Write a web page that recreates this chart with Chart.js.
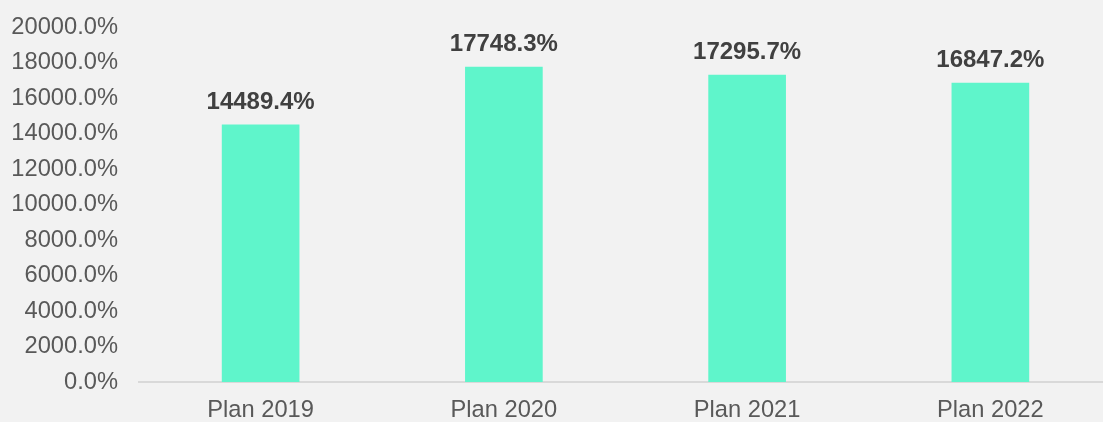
<!DOCTYPE html>
<html>
<head>
<meta charset="utf-8">
<script src="https://cdn.jsdelivr.net/npm/chart.js@4/dist/chart.umd.min.js"></script>
<style>
    html, body { margin: 0; padding: 0; background: #f2f2f2; overflow: hidden; }
    #wrap { width: 1112px; height: 426px; }
</style>
</head>
<body>
<div id="wrap"><canvas id="chart" width="1112" height="426"></canvas></div>
<script>
    const categories = ['Plan 2019', 'Plan 2020', 'Plan 2021', 'Plan 2022'];
    const values = [14489.4, 17748.3, 17295.7, 16847.2];

    const FONT = '"Liberation Sans", Arial, sans-serif';

    // bold value labels above each bar
    const valueLabels = {
        id: 'valueLabels',
        afterDatasetsDraw(chart) {
            const ctx = chart.ctx;
            const meta = chart.getDatasetMeta(0);
            ctx.save();
            ctx.font = 'bold 24px ' + FONT;
            ctx.fillStyle = '#404040';
            ctx.textAlign = 'center';
            ctx.textBaseline = 'alphabetic';
            meta.data.forEach((bar, i) => {
                ctx.fillText(values[i].toFixed(1) + '%', bar.x, bar.y - 16);
            });
            ctx.restore();
        }
    };

    new Chart(document.getElementById('chart'), {
        type: 'bar',
        data: {
            labels: categories,
            datasets: [{
                data: values,
                backgroundColor: '#5ff5cb',
                barThickness: 77
            }]
        },
        options: {
            responsive: false,
            animation: false,
            layout: { padding: { top: 27, right: 0, bottom: 0, left: 0 } },
            plugins: {
                legend: { display: false },
                tooltip: { enabled: false }
            },
            scales: {
                x: {
                    grid: { display: false, drawTicks: false },
                    border: { color: '#d9d9d9', width: 2 },
                    afterFit: function (scale) { scale.height = 44; },
                    ticks: {
                        color: '#595959',
                        padding: 14,
                        font: { family: FONT, size: 23.7 }
                    }
                },
                y: {
                    min: 0,
                    max: 20000,
                    grid: { display: false, drawTicks: false },
                    border: { display: false },
                    afterFit: function (scale) {
                        scale.width = 139;
                        // tick padding is only wanted horizontally
                        scale.paddingTop = 0;
                        scale.paddingBottom = 0;
                    },
                    ticks: {
                        stepSize: 2000,
                        color: '#595959',
                        padding: 21,
                        font: { family: FONT, size: 23.7 },
                        callback: function (value) {
                            return value.toFixed(1) + '%';
                        }
                    }
                }
            }
        },
        plugins: [valueLabels]
    });
</script>
</body>
</html>
